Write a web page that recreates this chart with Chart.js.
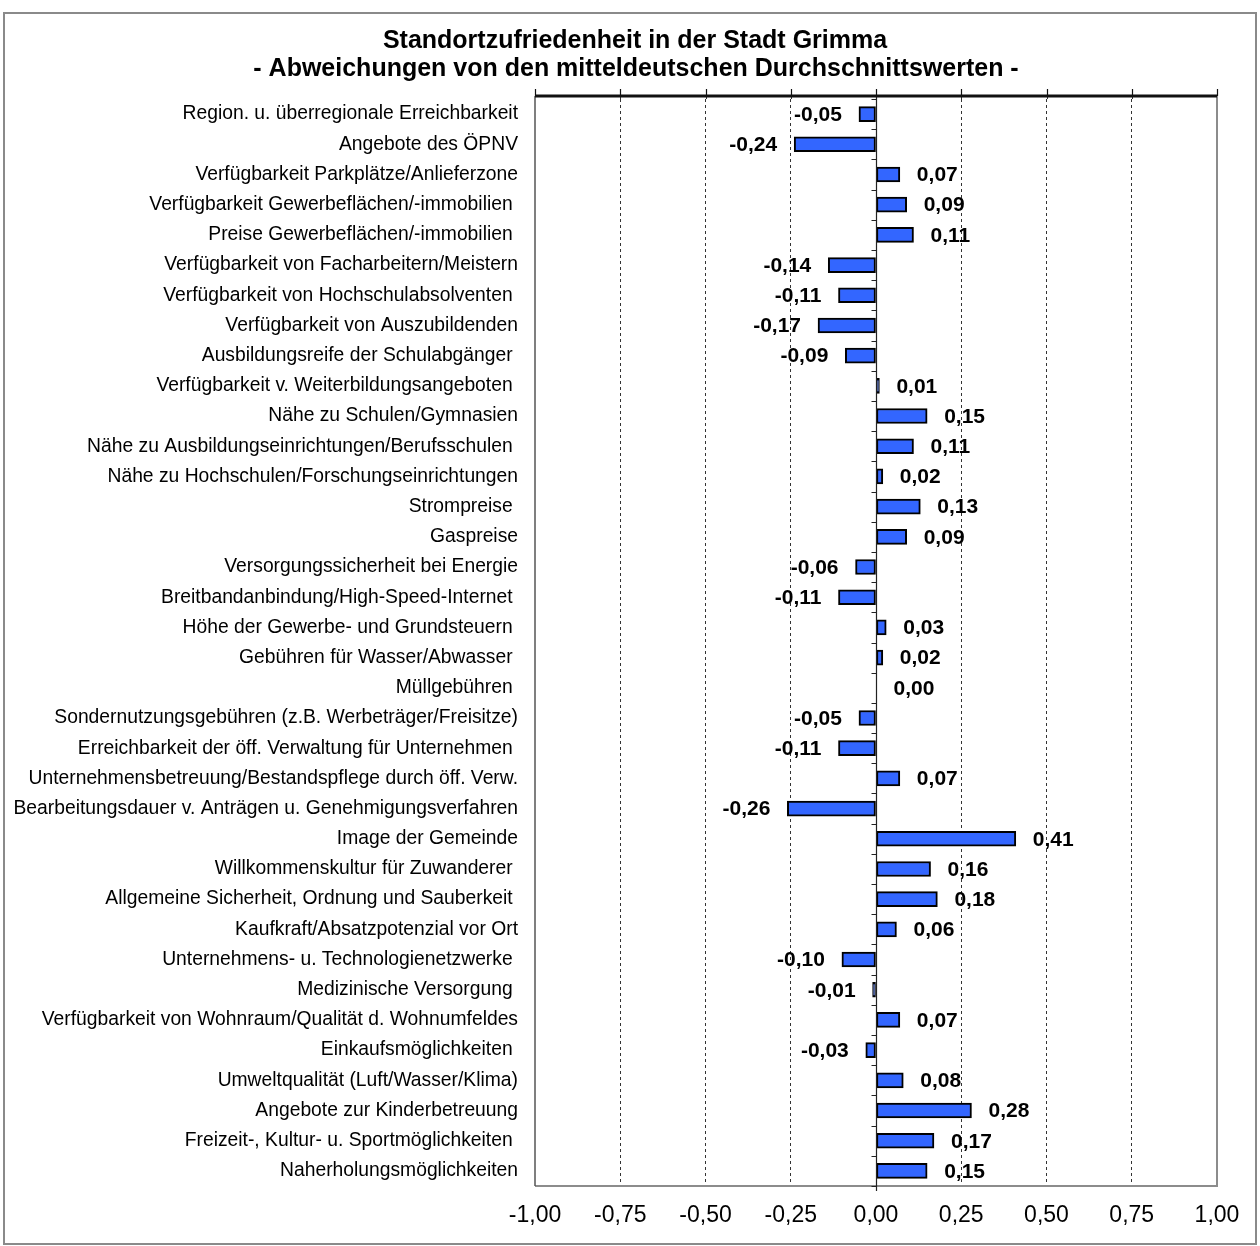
<!DOCTYPE html>
<html>
<head>
<meta charset="utf-8">
<script src="https://cdn.jsdelivr.net/npm/chart.js@4/dist/chart.umd.min.js"></script>
<style>
  html, body { margin: 0; padding: 0; background: #fff; }
  #wrap { position: relative; width: 1260px; height: 1246px; }
</style>
</head>
<body>
<div id="wrap"><canvas id="c" width="1260" height="1246"></canvas></div>
<script>
const titleLines = [
  "Standortzufriedenheit in der Stadt Grimma",
  "- Abweichungen von den mitteldeutschen Durchschnittswerten -"
];

const categories = [
  "Region. u. überregionale Erreichbarkeit",
  "Angebote des ÖPNV",
  "Verfügbarkeit Parkplätze/Anlieferzone",
  "Verfügbarkeit Gewerbeflächen/-immobilien ",
  "Preise Gewerbeflächen/-immobilien ",
  "Verfügbarkeit von Facharbeitern/Meistern",
  "Verfügbarkeit von Hochschulabsolventen ",
  "Verfügbarkeit von Auszubildenden",
  "Ausbildungsreife der Schulabgänger ",
  "Verfügbarkeit v. Weiterbildungsangeboten ",
  "Nähe zu Schulen/Gymnasien",
  "Nähe zu Ausbildungseinrichtungen/Berufsschulen ",
  "Nähe zu Hochschulen/Forschungseinrichtungen",
  "Strompreise ",
  "Gaspreise",
  "Versorgungssicherheit bei Energie",
  "Breitbandanbindung/High-Speed-Internet ",
  "Höhe der Gewerbe- und Grundsteuern ",
  "Gebühren für Wasser/Abwasser ",
  "Müllgebühren ",
  "Sondernutzungsgebühren (z.B. Werbeträger/Freisitze)",
  "Erreichbarkeit der öff. Verwaltung für Unternehmen ",
  "Unternehmensbetreuung/Bestandspflege durch öff. Verw.",
  "Bearbeitungsdauer v. Anträgen u. Genehmigungsverfahren",
  "Image der Gemeinde",
  "Willkommenskultur für Zuwanderer ",
  "Allgemeine Sicherheit, Ordnung und Sauberkeit ",
  "Kaufkraft/Absatzpotenzial vor Ort",
  "Unternehmens- u. Technologienetzwerke ",
  "Medizinische Versorgung ",
  "Verfügbarkeit von Wohnraum/Qualität d. Wohnumfeldes",
  "Einkaufsmöglichkeiten ",
  "Umweltqualität (Luft/Wasser/Klima)",
  "Angebote zur Kinderbetreuung",
  "Freizeit-, Kultur- u. Sportmöglichkeiten ",
  "Naherholungsmöglichkeiten"
];

const values = [
  -0.05, -0.24, 0.07, 0.09, 0.11, -0.14, -0.11, -0.17, -0.09, 0.01,
  0.15, 0.11, 0.02, 0.13, 0.09, -0.06, -0.11, 0.03, 0.02, 0.00,
  -0.05, -0.11, 0.07, -0.26, 0.41, 0.16, 0.18, 0.06, -0.10, -0.01,
  0.07, -0.03, 0.08, 0.28, 0.17, 0.15
];

const xTickValues = [-1, -0.75, -0.5, -0.25, 0, 0.25, 0.5, 0.75, 1];
const xTickLabels = ["-1,00", "-0,75", "-0,50", "-0,25", "0,00", "0,25", "0,50", "0,75", "1,00"];

const FONT = "'Liberation Sans', Arial, sans-serif";

function fmt(v) {
  return v.toFixed(2).replace('.', ',');
}

const framePlugin = {
  id: 'frame',
  beforeDraw(chart) {
    const ctx = chart.ctx;
    ctx.save();
    ctx.fillStyle = '#fff';
    ctx.fillRect(0, 0, chart.width, chart.height);
    ctx.strokeStyle = '#8a8a8a';
    ctx.lineWidth = 2;
    ctx.strokeRect(4, 13, 1252, 1231);
    ctx.fillStyle = '#000';
    ctx.font = "bold 25px " + FONT;
    ctx.textAlign = 'center';
    ctx.textBaseline = 'middle';
    ctx.fillText(titleLines[0], 635, 41);
    ctx.fillText(titleLines[1], 636, 69);
    ctx.restore();
  },
  afterDatasetsDraw(chart) {
    const ctx = chart.ctx;
    const a = chart.chartArea;
    const xs = chart.scales.x;
    const ys = chart.scales.y;
    const topY = a.top - 3;
    ctx.save();
    ctx.strokeStyle = '#8c8c8c';
    ctx.lineWidth = 2;
    ctx.beginPath();
    ctx.moveTo(a.right, topY);
    ctx.lineTo(a.right, a.bottom);
    ctx.lineTo(a.left, a.bottom);
    ctx.stroke();
    ctx.strokeStyle = '#555';
    ctx.lineWidth = 1.5;
    ctx.beginPath();
    ctx.moveTo(a.left, topY);
    ctx.lineTo(a.left, a.bottom);
    ctx.stroke();
    const x0 = Math.round(xs.getPixelForValue(0)) + 0.5;
    ctx.strokeStyle = '#222';
    ctx.lineWidth = 1.2;
    ctx.beginPath();
    ctx.moveTo(x0, topY);
    ctx.lineTo(x0, a.bottom + 5);
    const n = categories.length;
    const step = ys.getPixelForValue(1) - ys.getPixelForValue(0);
    for (let i = 0; i <= n; i++) {
      const y = (i < n) ? ys.getPixelForValue(i) - step / 2 : ys.getPixelForValue(n - 1) + step / 2;
      ctx.moveTo(x0 - 5, Math.round(y) + 0.5);
      ctx.lineTo(x0, Math.round(y) + 0.5);
    }
    ctx.stroke();
    // dashed grid extension up to the top line
    ctx.strokeStyle = '#333';
    ctx.lineWidth = 1;
    ctx.setLineDash([3, 3]);
    ctx.beginPath();
    xTickValues.forEach(v => {
      if (v === -1 || v === 0 || v === 1) return;
      const px = Math.round(xs.getPixelForValue(v)) + 0.5;
      ctx.moveTo(px, topY);
      ctx.lineTo(px, a.top);
    });
    ctx.stroke();
    ctx.setLineDash([]);
    ctx.strokeStyle = '#111';
    ctx.lineWidth = 3;
    ctx.beginPath();
    ctx.moveTo(a.left, topY);
    ctx.lineTo(a.right, topY);
    ctx.stroke();
    ctx.lineWidth = 1.2;
    ctx.beginPath();
    xTickValues.forEach(v => {
      const px = Math.round(xs.getPixelForValue(v)) + 0.5;
      ctx.moveTo(px, topY);
      ctx.lineTo(px, topY - 7);
    });
    ctx.stroke();
    ctx.fillStyle = '#000';
    ctx.font = "bold 21px " + FONT;
    ctx.textBaseline = 'middle';
    const meta = chart.getDatasetMeta(0);
    meta.data.forEach((bar, i) => {
      const v = values[i];
      const y = bar.y + 1;
      if (v < 0) {
        ctx.textAlign = 'right';
        ctx.fillText(fmt(v), bar.x - 17, y);
      } else {
        ctx.textAlign = 'left';
        ctx.fillText(fmt(v), Math.max(bar.x, x0) + 17, y);
      }
    });
    ctx.restore();
  }
};

new Chart(document.getElementById('c'), {
  type: 'bar',
  data: {
    labels: categories,
    datasets: [{
      data: values,
      backgroundColor: '#3366ff',
      borderColor: '#000',
      borderWidth: 2,
      borderSkipped: false,
      barThickness: 15
    }]
  },
  options: {
    indexAxis: 'y',
    responsive: false,
    animation: false,
    devicePixelRatio: 1,
    layout: { padding: { left: 0, right: 43, top: 99, bottom: 0 } },
    plugins: {
      legend: { display: false },
      tooltip: { enabled: false },
      title: { display: false }
    },
    scales: {
      x: {
        type: 'linear',
        position: 'bottom',
        min: -1,
        max: 1,
        afterBuildTicks(scale) {
          scale.ticks = xTickValues.map(v => ({ value: v }));
        },
        afterFit(scale) { scale.height = 60; },
        ticks: {
          color: '#000',
          font: { family: FONT, size: 23 },
          padding: 16,
          maxRotation: 0,
          autoSkip: false,
          callback: (v, i) => xTickLabels[i]
        },
        grid: {
          drawTicks: false,
          lineWidth: 1,
          color: (ctx) => {
            const v = ctx.tick ? ctx.tick.value : null;
            if (v === -1 || v === 1 || v === 0) return 'rgba(0,0,0,0)';
            return '#333';
          }
        },
        border: { display: false, dash: [3, 3] }
      },
      y: {
        afterFit(scale) { scale.width = 535; },
        ticks: {
          color: '#000',
          font: { family: FONT, size: 19.3 },
          padding: 17,
          autoSkip: false
        },
        grid: { display: false, drawTicks: false },
        border: { display: false }
      }
    }
  },
  plugins: [framePlugin]
});
</script>
</body>
</html>
